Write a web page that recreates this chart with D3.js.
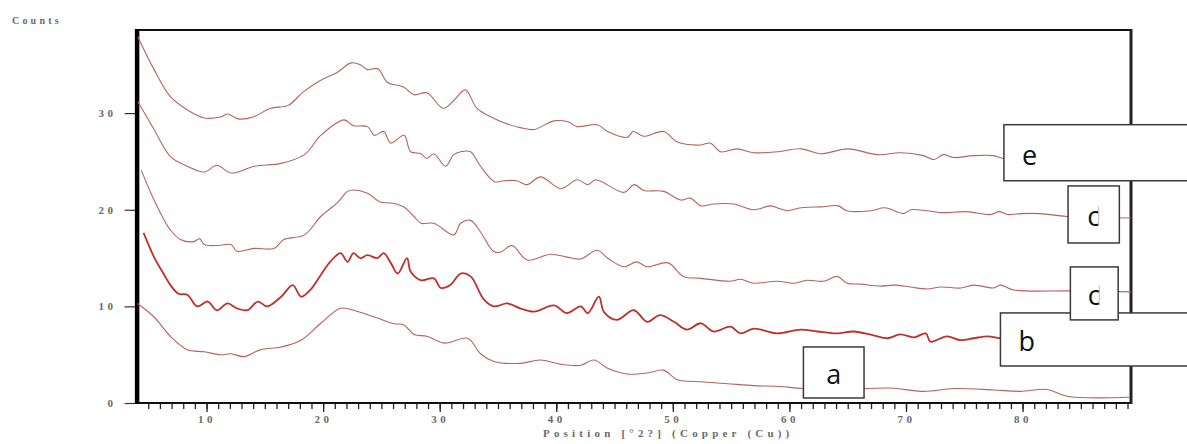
<!DOCTYPE html>
<html>
<head>
<meta charset="utf-8">
<script src="https://cdn.jsdelivr.net/npm/d3@7"></script>
<style>
  body { margin: 0; background: #fff; }
  svg { display: block; }
</style>
</head>
<body>
<svg id="chart" width="1187" height="444"></svg>
<script>
// diffraction patterns, [position °2θ, counts]
const seriesA = [[4.07,10.3],[5.5,8.9],[6.9,6.9],[8.35,5.5],[9.8,5.3],[11.2,5.0],[12.1,5.1],[13.2,4.8],[14.6,5.5],[16.4,5.8],[18.1,6.5],[19.8,8.25],[21.5,9.8],[22.6,9.6],[24.4,8.9],[26.1,8.2],[26.9,8.1],[27.8,7.1],[28.9,6.9],[30.4,6.2],[32.4,6.7],[33.5,5.1],[34.65,4.3],[36.9,4.1],[38.65,4.45],[40.4,4.0],[42.1,3.9],[43.2,4.45],[44.4,3.6],[46.1,3.0],[47.8,3.1],[49.2,3.4],[50.4,2.4],[52.4,2.2],[54.7,2.0],[56.95,1.8],[59.2,1.7],[61.2,1.5],[66.4,1.5],[68.7,1.55],[71.5,1.2],[74.1,1.5],[77.5,1.35],[79.8,1.2],[82.1,1.4],[83.8,0.7],[89.2,0.6]];

const seriesB = [[4.6,17.6],[5.5,15.1],[6.35,13.3],[6.9,12.2],[7.6,11.3],[8.35,11.2],[9.2,10.0],[10.1,10.5],[10.9,9.6],[11.8,10.3],[12.6,9.8],[13.5,9.6],[14.4,10.5],[15.2,10.0],[16.4,11.0],[17.4,12.2],[18.1,11.0],[18.9,11.7],[19.8,13.25],[20.6,14.6],[21.5,15.5],[22.1,14.6],[22.6,15.5],[23.2,15.0],[23.8,15.3],[24.65,15.0],[25.2,15.5],[25.8,14.5],[26.4,13.4],[27.2,15.0],[27.5,13.6],[28.4,12.7],[29.5,12.9],[30.1,11.9],[30.9,12.2],[31.8,13.4],[32.65,13.1],[33.8,10.7],[34.65,10.0],[35.8,10.3],[36.9,9.8],[38.1,9.45],[39.8,10.1],[40.9,9.3],[42.1,10.0],[42.7,9.3],[43.65,11.0],[44.1,9.4],[45.2,8.6],[46.65,9.6],[47.8,8.4],[48.9,9.1],[50.1,8.4],[51.2,7.6],[52.4,8.25],[53.5,7.4],[54.95,7.9],[55.8,7.2],[56.95,7.7],[58.95,7.2],[60.95,7.6],[62.4,7.4],[64.1,7.2],[65.5,7.4],[67.2,7.0],[68.4,6.7],[69.5,7.1],[70.7,6.8],[71.7,7.2],[72.1,6.35],[73.5,6.9],[74.7,6.5],[75.8,6.7],[77.0,6.9],[78.1,6.7],[83,6.6],[89.3,6.5]];

const seriesC = [[4.4,24.1],[5.5,21.0],[6.9,17.9],[7.8,16.9],[8.9,16.7],[9.4,17.0],[9.8,16.4],[11.0,16.3],[12.1,16.4],[12.6,15.7],[14.1,16.0],[15.8,16.0],[16.6,16.9],[18.4,17.4],[19.8,19.3],[21.2,20.7],[22.1,21.9],[22.6,22.05],[23.8,21.7],[24.9,20.8],[25.8,20.7],[26.9,20.3],[27.8,19.3],[28.4,18.6],[29.5,18.6],[31.2,17.4],[31.8,18.6],[32.65,18.9],[33.5,17.7],[34.6,15.7],[35.2,15.6],[36.2,16.3],[37.5,14.8],[39.5,15.4],[40.9,15.1],[42.1,14.9],[43.5,15.8],[44.4,15.0],[45.8,14.1],[46.9,14.6],[47.8,14.1],[49.6,14.5],[50.9,13.1],[52.4,12.9],[54.9,12.6],[55.8,12.8],[56.9,12.4],[58.95,12.6],[60.4,12.4],[61.5,12.7],[62.95,12.6],[64.1,13.1],[64.95,12.4],[66.1,12.3],[67.8,12.1],[69.0,12.2],[70.4,12.0],[71.8,11.8],[73.0,12.0],[74.7,11.9],[75.8,12.2],[77.5,11.9],[78.1,12.2],[79.2,11.7],[84.1,11.6],[89.3,11.5]];

const seriesD = [[4.1,31.2],[5.5,28.3],[6.9,25.5],[8.35,24.5],[9.8,23.9],[10.9,24.6],[12.1,23.8],[14.1,24.5],[16.4,24.8],[18.4,25.7],[19.8,27.7],[21.8,29.3],[22.6,28.7],[23.8,28.6],[24.4,27.7],[25.2,28.1],[25.8,26.9],[26.95,27.7],[27.5,26.0],[28.4,25.8],[28.9,25.3],[29.5,25.8],[30.5,24.5],[31.2,25.7],[31.8,26.0],[32.65,26.0],[33.5,24.5],[34.7,22.9],[35.5,23.0],[36.6,23.0],[37.5,22.6],[38.65,23.4],[40.4,22.2],[41.8,23.1],[42.7,22.6],[43.4,23.1],[45.8,21.8],[46.7,22.6],[47.5,22.0],[49.2,21.9],[50.7,21.0],[51.5,21.2],[52.4,20.4],[53.5,20.6],[55.2,20.6],[56.9,20.0],[58.4,20.4],[59.2,20.1],[59.8,19.9],[61.0,20.2],[62.7,20.3],[64.2,20.4],[64.9,19.9],[67.0,19.9],[68.2,20.2],[69.8,19.6],[70.4,20.0],[71.8,19.9],[73.0,19.7],[75.2,19.8],[77.25,19.5],[78.0,19.8],[78.7,19.5],[79.8,19.6],[81.5,19.6],[83.8,19.3],[89.3,19.15]];

const seriesE = [[4.1,37.9],[5.5,34.5],[6.9,31.7],[8.4,30.3],[9.8,29.5],[11.2,29.6],[11.8,29.9],[12.7,29.4],[14.0,29.6],[15.5,30.5],[17.0,30.8],[18.3,32.2],[19.8,33.4],[21.2,34.2],[22.4,35.2],[23.2,35.0],[23.8,34.5],[24.7,34.6],[25.5,33.2],[26.9,32.7],[27.8,31.9],[28.9,32.1],[30.3,30.5],[31.2,31.3],[32.2,32.4],[33.2,30.5],[34.6,29.5],[35.5,29.0],[36.9,28.5],[38.1,28.3],[39.8,29.2],[41.0,29.1],[41.8,28.6],[43.5,28.8],[44.4,28.1],[46.1,27.5],[46.6,28.1],[47.5,27.6],[49.2,28.1],[50.4,27.0],[52.4,26.7],[53.2,26.9],[54.1,26.0],[55.5,26.3],[56.9,25.9],[59.0,26.0],[61.0,26.3],[62.7,25.8],[65.0,26.3],[67.6,25.7],[69.5,25.9],[71.5,25.6],[72.4,25.2],[73.2,25.7],[74.1,25.4],[75.8,25.6],[77.5,25.6],[78.4,25.3],[82,25.2],[86,25.0],[89.3,24.9]];

const yTicks = [0, 10, 20, 30];
const xTicks = [10, 20, 30, 40, 50, 60, 70, 80];
const minorTicks = d3.range(5, 90);
const yLabel = "Counts";
const xLabel = "Position [°2?] (Copper (Cu))";

// sample tags placed over the plot, [label, x0, x1, y0, y1] in data units
const tags = [
  ["e", 78.4, 95, 28.8, 23.0],
  ["c", 83.9, 88.3, 22.46, 16.56],
  ["b", 78.1, 95, 9.32, 3.83],
  ["c", 84.1, 88.2, 14.08, 8.6],
  ["a", 61.2, 66.4, 5.8, 0.52]
];

const W = 1187, H = 444;
const margin = { top: 30, right: 56, bottom: 41, left: 136.6 };
const svg = d3.select("#chart");

const x = d3.scaleLinear().domain([4, 89.3]).range([margin.left, W - margin.right]);
const y = d3.scaleLinear().domain([0, 38.6]).range([H - margin.bottom, margin.top]);

const labelFont = "'Liberation Serif', 'DejaVu Serif', serif";
const labelGrey = "#6a6a6a";

// minor ticks every degree
svg.append("g")
  .attr("transform", `translate(0,${y(0)})`)
  .call(d3.axisBottom(x).tickValues(minorTicks).tickSize(6).tickFormat(""))
  .call(g => g.select(".domain").remove())
  .call(g => g.selectAll("line").attr("stroke", "#222").attr("stroke-width", 1.3));

// major ticks with labels
svg.append("g")
  .attr("transform", `translate(0,${y(0)})`)
  .call(d3.axisBottom(x).tickValues(xTicks).tickSize(9).tickPadding(3))
  .call(g => g.select(".domain").remove())
  .call(g => g.selectAll("line").attr("stroke", "#222").attr("stroke-width", 1.3))
  .call(g => g.selectAll("text")
    .attr("font-family", labelFont).attr("font-weight", "bold")
    .attr("font-size", 11).attr("letter-spacing", "3.5px").attr("fill", labelGrey));

svg.append("g")
  .attr("transform", `translate(${margin.left},0)`)
  .call(d3.axisLeft(y).tickValues(yTicks).tickSize(12).tickPadding(8))
  .call(g => g.select(".domain").remove())
  .call(g => g.selectAll("line").attr("stroke", "#333").attr("stroke-width", 1.2))
  .call(g => g.selectAll("text")
    .attr("font-family", labelFont).attr("font-weight", "bold")
    .attr("font-size", 11).attr("letter-spacing", "3.5px").attr("fill", labelGrey));

// frame
const x0 = x.range()[0], x1 = x.range()[1], yb = y.range()[0], yt = y.range()[1];
svg.append("line").attr("x1", x0).attr("x2", x1).attr("y1", yt).attr("y2", yt)
  .attr("stroke", "#111").attr("stroke-width", 2.2);
svg.append("line").attr("x1", x0).attr("x2", x1 + 1).attr("y1", yb).attr("y2", yb)
  .attr("stroke", "#111").attr("stroke-width", 2);
svg.append("line").attr("x1", x1).attr("x2", x1).attr("y1", yt - 1).attr("y2", yb + 1)
  .attr("stroke", "#222").attr("stroke-width", 3);
svg.append("line").attr("x1", x0 + 0.5).attr("x2", x0 + 0.5).attr("y1", yt - 1).attr("y2", yb + 1)
  .attr("stroke", "#000").attr("stroke-width", 4.5);

// axis titles
svg.append("text").attr("x", 12).attr("y", 24).text(yLabel)
  .attr("font-family", labelFont).attr("font-weight", "bold")
  .attr("font-size", 10).attr("letter-spacing", "3.2px").attr("fill", labelGrey);
svg.append("text").attr("x", 543).attr("y", 437).text(xLabel)
  .attr("font-family", labelFont).attr("font-weight", "bold")
  .attr("font-size", 11).attr("letter-spacing", "4.2px").attr("fill", labelGrey);

// patterns
const line = d3.line()
  .x(d => x(d[0]))
  .y(d => y(d[1]))
  .curve(d3.curveCatmullRom.alpha(0.5));

const patterns = [
  { data: seriesA, color: "#b8625e", width: 1.1 },
  { data: seriesB, color: "#c0302a", width: 1.8 },
  { data: seriesC, color: "#b8625e", width: 1.1 },
  { data: seriesD, color: "#b8625e", width: 1.1 },
  { data: seriesE, color: "#b8625e", width: 1.1 }
];

svg.append("g").selectAll("path").data(patterns).join("path")
  .attr("d", d => line(d.data))
  .attr("fill", "none")
  .attr("stroke", d => d.color)
  .attr("stroke-width", d => d.width)
  .attr("stroke-linejoin", "round");

// tag boxes; the narrow "c" boxes show their letter cut on the right
const wide = d => x(d[2]) - x(d[1]) > 100;
const $tags = svg.append("g").selectAll("g").data(tags).join("g");
$tags.append("clipPath")
  .attr("id", (d, i) => "tagclip" + i)
  .append("rect")
  .attr("x", d => x(d[1]))
  .attr("y", d => y(d[3]))
  .attr("width", d => d[0] === "c" ? (x(d[2]) - x(d[1])) / 2 + 5 : x(d[2]) - x(d[1]))
  .attr("height", d => y(d[4]) - y(d[3]));
$tags.append("rect")
  .attr("x", d => x(d[1]))
  .attr("y", d => y(d[3]))
  .attr("width", d => x(d[2]) - x(d[1]))
  .attr("height", d => y(d[4]) - y(d[3]))
  .attr("fill", "#fff")
  .attr("stroke", "#3a3a3a")
  .attr("stroke-width", 1.5);
$tags.append("text")
  .attr("clip-path", (d, i) => `url(#tagclip${i})`)
  .attr("x", d => wide(d) ? x(d[1]) + 18 : (x(d[1]) + x(d[2])) / 2)
  .attr("y", d => (y(d[3]) + y(d[4])) / 2 + 12)
  .attr("text-anchor", d => wide(d) ? "start" : "middle")
  .attr("font-family", "'Open Sans', 'Noto Sans', sans-serif")
  .attr("font-size", 27)
  .attr("fill", "#111")
  .text(d => d[0]);
$tags.filter(d => d[0] === "c").append("line")
  .attr("x1", d => (x(d[1]) + x(d[2])) / 2 + 5)
  .attr("x2", d => (x(d[1]) + x(d[2])) / 2 + 5)
  .attr("y1", d => (y(d[3]) + y(d[4])) / 2 - 8)
  .attr("y2", d => (y(d[3]) + y(d[4])) / 2 + 12)
  .attr("stroke", "#bbb")
  .attr("stroke-width", 1);
</script>
</body>
</html>
